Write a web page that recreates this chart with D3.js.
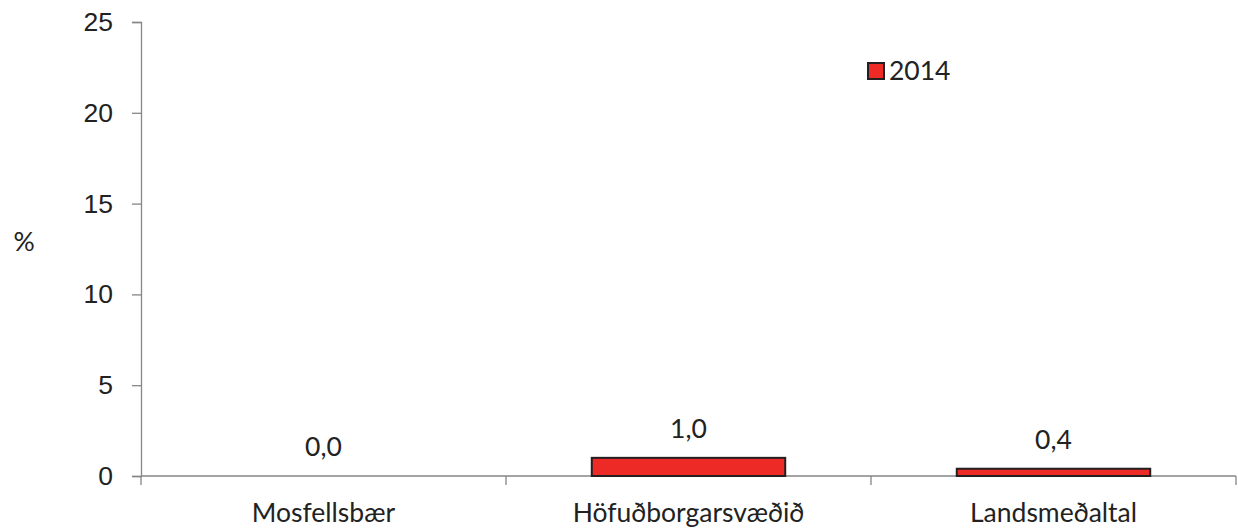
<!DOCTYPE html>
<html>
<head>
<meta charset="utf-8">
<script src="https://cdn.jsdelivr.net/npm/d3@7"></script>
<style>
  body { margin: 0; background: #fff; }
  svg { display: block; font-family: Lato, "Open Sans", sans-serif; }
</style>
</head>
<body>
<svg></svg>
<script>
// chart values
const categories = ['Mosfellsbær', 'Höfuðborgarsvæðið', 'Landsmeðaltal'];
const values2014 = [0.0, 1.0, 0.4];
const yTicks = [0, 5, 10, 15, 20, 25];
const seriesName = '2014';

const W = 1238, H = 530;
const margin = { top: 22, right: 2, bottom: 54, left: 141 };
const width = W - margin.left - margin.right;
const height = H - margin.top - margin.bottom;
const fontSize = '26.5px';

const svg = d3.select('svg').attr('width', W).attr('height', H);
const g = svg.append('g')
  .attr('transform', 'translate(' + margin.left + ',' + margin.top + ')');

const x = d3.scaleBand().domain(categories).range([0, width]).paddingInner(0.47).paddingOuter(0.235);
const y = d3.scaleLinear().domain([0, 25]).range([height, 0]);

const textColor = '#222';
const axisColor = '#868686';

// y axis
const yAxis = g.append('g')
  .call(d3.axisLeft(y).tickValues(yTicks).tickSize(9).tickPadding(19).tickFormat(d3.format('d')));
yAxis.select('.domain').attr('stroke', axisColor).attr('stroke-width', 1.3);
yAxis.selectAll('.tick line').attr('stroke', axisColor).attr('stroke-width', 1.3);
yAxis.selectAll('.tick text').attr('fill', textColor).style('font-size', fontSize);

// x axis line + boundary ticks
const xBase = g.append('g').attr('transform', 'translate(0,' + height + ')');
xBase.append('line')
  .attr('x1', 0).attr('x2', width)
  .attr('stroke', axisColor).attr('stroke-width', 1.3);
const step = width / categories.length;
d3.range(categories.length + 1).forEach((i) => {
  xBase.append('line')
    .attr('x1', i * step).attr('x2', i * step)
    .attr('y1', 0).attr('y2', 9)
    .attr('stroke', axisColor).attr('stroke-width', 1.3);
});
xBase.selectAll('text.cat')
  .data(categories)
  .enter().append('text')
  .attr('class', 'cat')
  .attr('x', (d) => x(d) + x.bandwidth() / 2)
  .attr('y', 46)
  .attr('text-anchor', 'middle')
  .attr('fill', textColor)
  .style('font-size', fontSize)
  .text((d) => d);

// bars
const data = categories.map((c, i) => ({ cat: c, value: values2014[i] }));
g.selectAll('rect.bar')
  .data(data.filter((d) => d.value > 0))
  .enter().append('rect')
  .attr('class', 'bar')
  .attr('x', (d) => x(d.cat))
  .attr('y', (d) => y(d.value))
  .attr('width', x.bandwidth())
  .attr('height', (d) => height - y(d.value))
  .attr('fill', '#EE2A26')
  .attr('stroke', '#231f20')
  .attr('stroke-width', 2);

// value labels
g.selectAll('text.val')
  .data(data)
  .enter().append('text')
  .attr('class', 'val')
  .attr('x', (d) => x(d.cat) + x.bandwidth() / 2)
  .attr('y', (d) => y(d.value) - 20)
  .attr('text-anchor', 'middle')
  .attr('fill', textColor)
  .style('font-size', fontSize)
  .text((d) => d3.format('.1f')(d.value).replace('.', ','));

// y title
svg.append('text')
  .attr('x', 24).attr('y', 251)
  .attr('text-anchor', 'middle')
  .attr('fill', textColor)
  .style('font-size', fontSize)
  .text('%');

// legend
const legend = svg.append('g').attr('transform', 'translate(868,63)');
legend.append('rect')
  .attr('width', 16).attr('height', 16)
  .attr('fill', '#EE2A26').attr('stroke', '#231f20').attr('stroke-width', 2);
legend.append('text')
  .attr('x', 21).attr('y', 17)
  .attr('fill', textColor)
  .style('font-size', fontSize)
  .text(seriesName);
</script>
</body>
</html>
